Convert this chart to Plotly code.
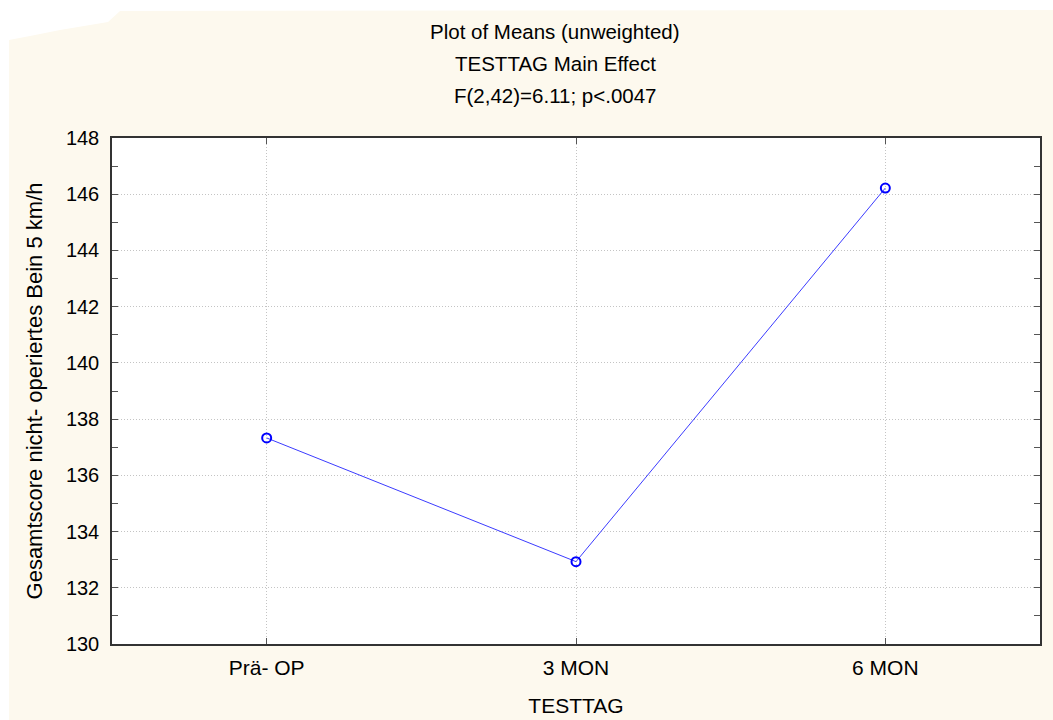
import plotly.graph_objects as go

categories = ["Prä- OP", "3 MON", "6 MON"]
means = [137.33, 132.93, 146.22]
y_ticks = [130, 132, 134, 136, 138, 140, 142, 144, 146, 148]
title_lines = ["Plot of Means (unweighted)", "TESTTAG Main Effect", "F(2,42)=6.11; p<.0047"]

BG = "#FDF9EE"
FONT = "Liberation Sans, Arial, sans-serif"

fig = go.Figure()
fig.add_trace(go.Scatter(
    x=categories, y=means, mode="lines+markers",
    line=dict(color="#3B3BFF", width=1),
    marker=dict(symbol="circle-open", size=9, color="#0000FF", line=dict(width=2, color="#0000FF")),
    showlegend=False,
))

def px(x):
    return (x - 112) / 928
def py(y):
    return (644 - y) / 506

# white scan-artifact patch in top-left corner
path = (f"M {px(0)},{py(0)} L {px(1053)},{py(0)} L {px(1053)},{py(10)} L {px(120)},{py(11)} "
        f"L {px(108)},{py(22)} L {px(60)},{py(30)} L {px(30)},{py(36)} L {px(9)},{py(40)} "
        f"L {px(9)},{py(720)} L {px(0)},{py(720)} Z")
fig.add_shape(type="path", path=path, xref="paper", yref="paper",
              fillcolor="white", line=dict(width=0), layer="below")

for i, line in enumerate(title_lines):
    fig.add_annotation(text=line, xref="paper", yref="paper",
                       x=px(555), y=py(31 + 32.3 * i), xanchor="center", yanchor="middle",
                       showarrow=False, font=dict(size=20.5, family=FONT, color="black"))

fig.update_layout(
    width=1053, height=720,
    paper_bgcolor=BG, plot_bgcolor="white",
    margin=dict(l=112, r=13, t=138, b=76, autoexpand=False),
    font=dict(family=FONT, color="black"),
)
fig.update_xaxes(
    type="category", range=[-0.5, 2.5], automargin=False,
    showline=True, linecolor="#333333", linewidth=1.5, mirror="allticks",
    ticks="inside", ticklen=6, tickcolor="#555555",
    showgrid=True, gridcolor="#C4C4C4", griddash="1px,2px", gridwidth=1,
    tickfont=dict(size=21, family=FONT), ticklabelstandoff=4,
    title=dict(text="TESTTAG", font=dict(size=21, family=FONT), standoff=20),
    zeroline=False,
)
fig.update_yaxes(
    range=[130, 148], tickvals=y_ticks, automargin=False,
    showline=True, linecolor="#333333", linewidth=1.5, mirror="allticks",
    ticks="inside", ticklen=6, tickcolor="#555555",
    minor=dict(dtick=1, tick0=130, ticks="inside", ticklen=6, tickcolor="#555555", showgrid=False),
    showgrid=True, gridcolor="#C4C4C4", griddash="1px,2px", gridwidth=1,
    tickfont=dict(size=20, family=FONT), ticklabelstandoff=7,
    title=dict(text="Gesamtscore nicht- operiertes Bein 5 km/h", font=dict(size=22, family=FONT), standoff=17),
    zeroline=False,
)

fig.write_html("out.html")
